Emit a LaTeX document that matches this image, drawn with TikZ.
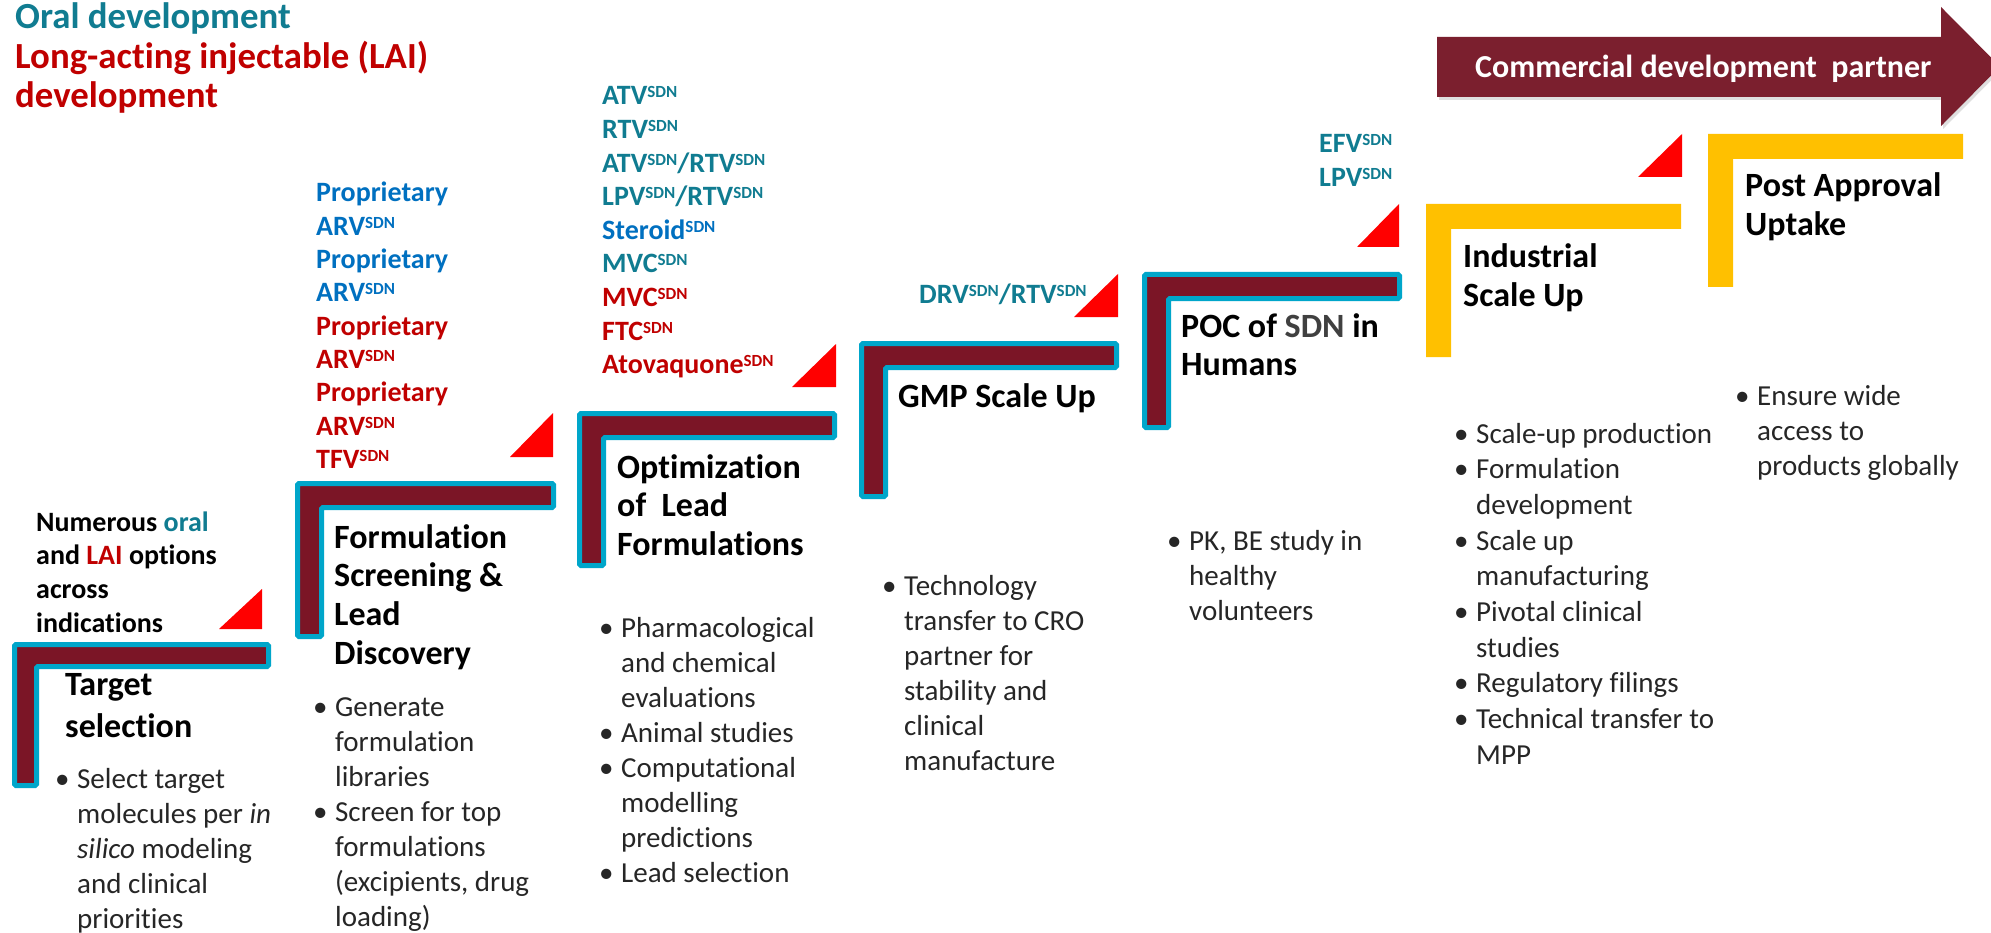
\documentclass[tikz,border=0pt]{standalone}
\usepackage{fontspec}
\setmainfont{Carlito}[Ligatures=NoCommon]
\usetikzlibrary{shadows}
\definecolor{maroon}{RGB}{123,21,38}
\definecolor{cyanb}{RGB}{0,166,202}
\definecolor{tealc}{RGB}{16,124,145}
\definecolor{bluec}{RGB}{0,112,192}
\definecolor{redc}{RGB}{192,0,0}
\definecolor{trired}{RGB}{255,0,0}
\definecolor{gold}{RGB}{255,192,0}
\definecolor{bodytext}{RGB}{38,38,38}
\definecolor{arrowc}{RGB}{123,31,46}
\definecolor{sdngray}{RGB}{64,64,64}
\newcommand\sdn{\raisebox{7pt}{\fontsize{17}{17}\selectfont SDN}}
\newcommand\cl[2]{\textcolor{#1}{#2}}
\newcommand\bu{\makebox[22pt][l]{\textbullet}}
\newcommand\nb{\hspace*{22pt}}
\newcommand\Lbr[5]{%
 \draw[sdnbr] ({#1+2.5},{#2+2.5}) -- ({#1+#3-2.5},{#2+2.5}) -- ({#1+#3-2.5},{#2+#4-2.5}) -- ({#1+#4-2.5},{#2+#4-2.5}) -- ({#1+#4-2.5},{#2+#5-2.5}) -- ({#1+2.5},{#2+#5-2.5}) -- cycle;}
\newcommand\Ybr[5]{%
 \fill[gold] (#1,#2) -- ({#1+#3},#2) -- ({#1+#3},{#2+#4}) -- ({#1+#4},{#2+#4}) -- ({#1+#4},{#2+#5}) -- (#1,{#2+#5}) -- cycle;}
\newcommand\Tri[4]{\fill[trired] (#1,#4) -- (#2,#4) -- (#2,#3) -- cycle;}
\begin{document}
\begin{tikzpicture}[x=1pt,y=-1pt,
  sdnbr/.style={fill=maroon, draw=cyanb, line width=5pt, rounded corners=1.5pt},
  lbl/.style={anchor=base west, inner sep=0pt, font=\fontsize{28}{33.4}\selectfont\bfseries},
  ttl/.style={anchor=base west, inner sep=0pt, font=\fontsize{34}{38.8}\selectfont\bfseries},
  bul/.style={anchor=base west, inner sep=0pt, text=bodytext, font=\fontsize{29}{35}\selectfont},
  hdr/.style={anchor=base west, inner sep=0pt, font=\fontsize{36.8}{39.5}\selectfont\bfseries}]
\fill[white] (0,0) rectangle (1991,933);
\useasboundingbox (0,0) rectangle (1991,933);
\clip (0,0) rectangle (1991,933);

% header
\node[hdr] (hdr) at (15,29) {\begin{tabular}[t]{@{}l@{}}\cl{tealc}{Oral development}\\ \cl{redc}{Long-acting injectable (LAI)}\\ \cl{redc}{development}\end{tabular}};

% commercial arrow
\fill[arrowc, drop shadow={shadow xshift=2pt, shadow yshift=-3pt, opacity=0.25}] (1437,37) -- (1941,37) -- (1941,7) -- (2000,66.5) -- (1941,126) -- (1941,97) -- (1437,97) -- cycle;
\node[anchor=base west, inner sep=0pt, text=white, font=\fontsize{32}{36}\selectfont\bfseries] (comm) at (1475,78) {Commercial development\ \ partner};

% brackets
\Lbr{12}{642}{259}{27}{146}
\Lbr{295}{481}{261}{29}{158}
\Lbr{577}{411}{260}{29}{157}
\Lbr{859}{341}{260}{29}{158}
\Lbr{1142}{272}{260}{29}{158}
\Ybr{1426}{204}{255}{25}{153}
\Ybr{1708}{134}{255}{25}{153}

% triangles
\Tri{219}{262}{589}{629}
\Tri{510}{553}{413}{457}
\Tri{792}{836}{344}{387}
\Tri{1074}{1118}{274}{317}
\Tri{1357}{1399}{204}{247}
\Tri{1638}{1682}{134}{177}

% step 1
\node[lbl, font=\fontsize{28}{33.7}\selectfont\bfseries] (n1) at (36,531) {\begin{tabular}[t]{@{}l@{}}Numerous \cl{tealc}{oral}\\ and \cl{redc}{LAI} options\\ across\\ indications\end{tabular}};
\node[ttl, font=\fontsize{34}{42}\selectfont\bfseries] (t1) at (65,695) {\begin{tabular}[t]{@{}l@{}}Target\\ selection\end{tabular}};
\node[bul] (b1) at (55,788) {\begin{tabular}[t]{@{}l@{}}\bu Select target\\ \nb molecules per \textit{in}\\ \nb\textit{silico} modeling\\ \nb and clinical\\ \nb priorities\end{tabular}};

% step 2
\node[lbl, font=\fontsize{28}{33.3}\selectfont\bfseries] (l2) at (316,202) {\begin{tabular}[t]{@{}l@{}}\cl{bluec}{Proprietary}\\ \cl{bluec}{ARV\sdn}\\ \cl{bluec}{Proprietary}\\ \cl{bluec}{ARV\sdn}\\ \cl{redc}{Proprietary}\\ \cl{redc}{ARV\sdn}\\ \cl{redc}{Proprietary}\\ \cl{redc}{ARV\sdn}\\ \cl{redc}{TFV\sdn}\end{tabular}};
\node[ttl] (t2) at (334,548) {\begin{tabular}[t]{@{}l@{}}Formulation\\ Screening \&\\ Lead\\ Discovery\end{tabular}};
\node[bul] (b2) at (313,716) {\begin{tabular}[t]{@{}l@{}}\bu Generate\\ \nb formulation\\ \nb libraries\\ \bu Screen for top\\ \nb formulations\\ \nb (excipients, drug\\ \nb loading)\end{tabular}};

% step 3
\node[lbl, font=\fontsize{28}{33.6}\selectfont\bfseries] (l3) at (602,105) {\begin{tabular}[t]{@{}l@{}}\cl{tealc}{ATV\sdn}\\ \cl{tealc}{RTV\sdn}\\ \cl{tealc}{ATV\sdn/RTV\sdn}\\ \cl{tealc}{LPV\sdn/RTV\sdn}\\ \cl{bluec}{Steroid\sdn}\\ \cl{tealc}{MVC\sdn}\\ \cl{redc}{MVC\sdn}\\ \cl{redc}{FTC\sdn}\\ \cl{redc}{Atovaquone\sdn}\end{tabular}};
\node[ttl] (t3) at (617,478) {\begin{tabular}[t]{@{}l@{}}Optimization\\ of\ \ Lead\\ Formulations\end{tabular}};
\node[bul] (b3) at (599,637) {\begin{tabular}[t]{@{}l@{}}\bu Pharmacological\\ \nb and chemical\\ \nb evaluations\\ \bu Animal studies\\ \bu Computational\\ \nb modelling\\ \nb predictions\\ \bu Lead selection\end{tabular}};

% step 4
\node[lbl] (l4) at (919,303) {\cl{tealc}{DRV\sdn/RTV\sdn}};
\node[ttl] (t4) at (898,407) {GMP Scale Up};
\node[bul] (b4) at (882,595) {\begin{tabular}[t]{@{}l@{}}\bu Technology\\ \nb transfer to CRO\\ \nb partner for\\ \nb stability and\\ \nb clinical\\ \nb manufacture\end{tabular}};

% step 5
\node[lbl, font=\fontsize{28}{34}\selectfont\bfseries] (l5) at (1319,153) {\begin{tabular}[t]{@{}l@{}}\cl{tealc}{EFV\sdn}\\ \cl{tealc}{LPV\sdn}\end{tabular}};
\node[ttl] (t5) at (1181,337) {\begin{tabular}[t]{@{}l@{}}POC of \cl{sdngray}{SDN} in\\ Humans\end{tabular}};
\node[bul] (b5) at (1167,550) {\begin{tabular}[t]{@{}l@{}}\bu PK, BE study in\\ \nb healthy\\ \nb volunteers\end{tabular}};

% step 6
\node[ttl] (t6) at (1463,268) {\begin{tabular}[t]{@{}l@{}}Industrial\\ Scale Up\end{tabular}};
\node[bul, font=\fontsize{29}{35.7}\selectfont] (b6) at (1454,443) {\begin{tabular}[t]{@{}l@{}}\bu Scale-up production\\ \bu Formulation\\ \nb development\\ \bu Scale up\\ \nb manufacturing\\ \bu Pivotal clinical\\ \nb studies\\ \bu Regulatory filings\\ \bu Technical transfer to\\ \nb MPP\end{tabular}};

% step 7
\node[ttl] (t7) at (1745,197) {\begin{tabular}[t]{@{}l@{}}Post Approval\\ Uptake\end{tabular}};
\node[bul] (b7) at (1735,405) {\begin{tabular}[t]{@{}l@{}}\bu Ensure wide\\ \nb access to\\ \nb products globally\end{tabular}};
\end{tikzpicture}
\end{document}
